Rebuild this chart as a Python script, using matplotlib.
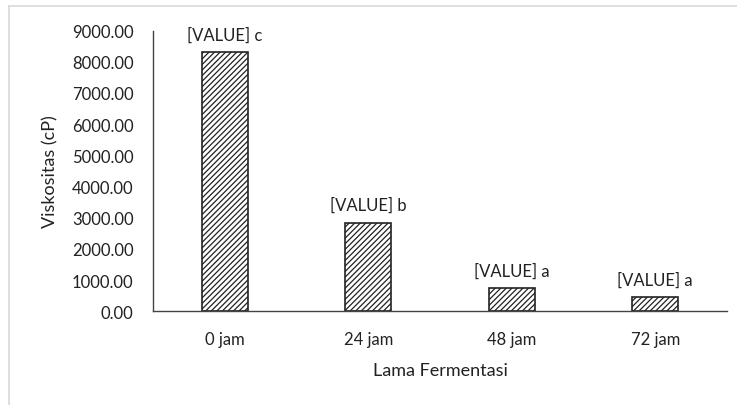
import matplotlib
matplotlib.use("Agg")
import matplotlib.pyplot as plt
from matplotlib.lines import Line2D

plt.rcParams['font.family'] = ['Lato', 'DejaVu Sans']
plt.rcParams['hatch.linewidth'] = 0.9

categories = ['0 jam', '24 jam', '48 jam', '72 jam']
viskositas = [8300, 2840, 740, 450]
notasi = ['c', 'b', 'a', 'a']
y_ticks = [0, 1000, 2000, 3000, 4000, 5000, 6000, 7000, 8000, 9000]

fig = plt.figure(figsize=(7.37, 4.06), dpi=100)
# axes box: x 153..727 px, y 31.5..312.3 px
ax = fig.add_axes([153 / 737, 1 - 312.3 / 406, 574 / 737, 280.8 / 406])

x = range(len(categories))
bars = ax.bar(x, viskositas, width=0.318, color='white', edgecolor='#222222',
              linewidth=1.2, hatch='//////')

for xi, v, n in zip(x, viskositas, notasi):
    ax.annotate(f'[VALUE] {n}', (xi, v), xytext=(0, 7), textcoords='offset points',
                ha='center', va='bottom', fontsize=12, color='#222222')

ax.set_xlim(-0.5, len(categories) - 0.5)
ax.set_ylim(0, 9000)
ax.set_yticks(y_ticks)
ax.set_yticklabels([f'{t:.2f}' for t in y_ticks])
ax.set_xticks(list(x))
ax.set_xticklabels(categories)
ax.tick_params(axis='both', length=0, labelsize=12, colors='#222222')
ax.tick_params(axis='x', pad=14)
ax.tick_params(axis='y', pad=14)

for s in ['top', 'right']:
    ax.spines[s].set_visible(False)
ax.spines['left'].set_color('#444444')
ax.spines['bottom'].set_color('#444444')
ax.spines['left'].set_linewidth(1.0)
ax.spines['bottom'].set_linewidth(1.0)

ax.set_ylabel('Viskositas (cP)', fontsize=13, color='#222222', labelpad=10)
ax.set_xlabel('Lama Fermentasi', fontsize=13, color='#222222', labelpad=11)

# light chart border
fig.add_artist(Line2D([9 / 737, 1], [1 - 6.5 / 406, 1 - 6.5 / 406], color='#d9d9d9', lw=1.2))
fig.add_artist(Line2D([9 / 737, 9 / 737], [0, 1 - 6.5 / 406], color='#d9d9d9', lw=1.2))

fig.savefig('out.png', dpi=100)
